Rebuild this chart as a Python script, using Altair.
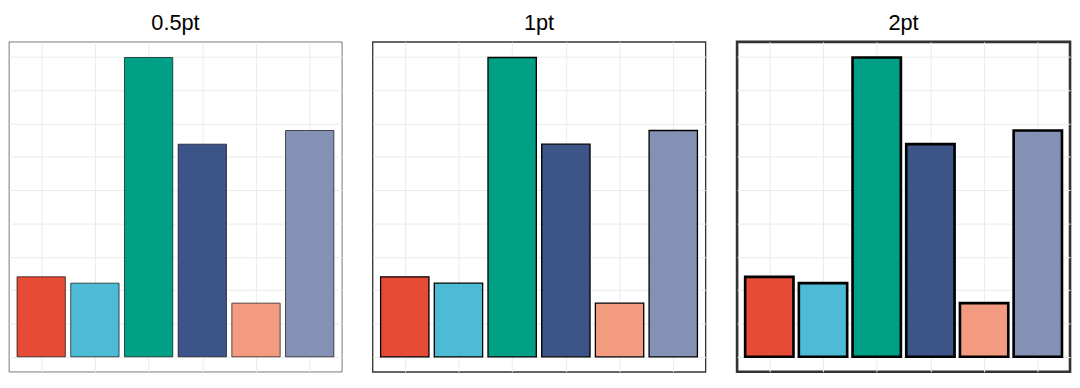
import altair as alt
import pandas as pd

# data
categories = ["A", "B", "C", "D", "E", "F"]
positions = [1, 2, 3, 4, 5, 6]
values = [2.40, 2.21, 8.98, 6.38, 1.61, 6.79]
colors = ["#E64B35", "#4DBBD5", "#00A087", "#3C5488", "#F39B7F", "#8491B4"]
panel_titles = ["0.5pt", "1pt", "2pt"]
line_widths_pt = [0.5, 1, 2]
y_ticks = [0, 1, 2, 3, 4, 5, 6, 7, 8, 9]

df = pd.DataFrame({"cat": categories, "idx": positions, "value": values})

PANEL_W = 337
PANEL_H = 334


def panel(title, lw_pt):
    sw = lw_pt * 4 / 3
    return (
        alt.Chart(df)
        .transform_calculate(xa="datum.idx - 0.45", xb="datum.idx + 0.45")
        .mark_bar(stroke="black", strokeWidth=sw)
        .encode(
            x=alt.X(
                "xa:Q",
                scale=alt.Scale(domain=[0.4, 6.6], nice=False, zero=False),
                axis=alt.Axis(values=positions, grid=True, labels=False, ticks=False,
                              domain=False, title=None, gridColor="#EBEBEB", gridWidth=1),
            ),
            x2="xb:Q",
            y=alt.Y(
                "value:Q",
                scale=alt.Scale(domain=[-0.45, 9.45], nice=False, zero=False),
                axis=alt.Axis(values=y_ticks, grid=True, labels=False, ticks=False,
                              domain=False, title=None, gridColor="#EBEBEB", gridWidth=1),
            ),
            y2=alt.datum(0),
            color=alt.Color("cat:N", scale=alt.Scale(domain=categories, range=colors), legend=None),
        )
        .properties(
            width=PANEL_W,
            height=PANEL_H,
            title=alt.TitleParams(title, fontSize=22, font="Liberation Sans", fontWeight="normal",
                                  color="black", anchor="middle", offset=7),
            view=alt.ViewBackground(stroke="#333333", strokeWidth=sw, fill="white"),
        )
    )


chart = (
    alt.hconcat(*[panel(t, w) for t, w in zip(panel_titles, line_widths_pt)], spacing=29)
    .properties(padding={"left": 0, "top": 0, "right": 0, "bottom": 0}, background="white")
)

chart.save("out.html", embed_options={"renderer": "svg", "actions": False})
